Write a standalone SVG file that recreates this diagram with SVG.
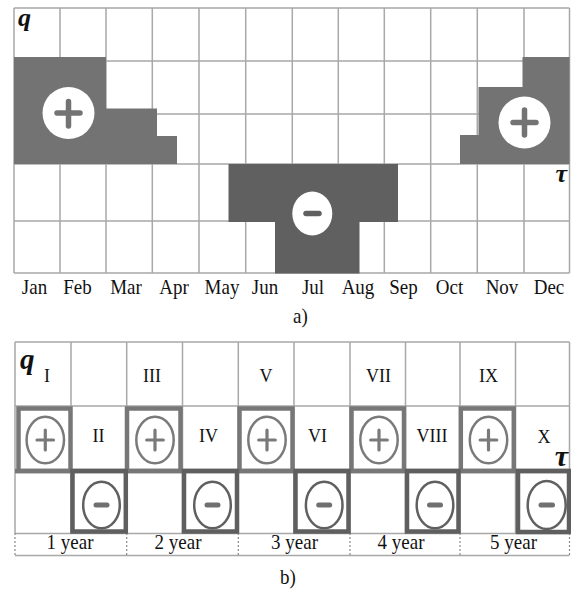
<svg xmlns="http://www.w3.org/2000/svg" width="571" height="590" viewBox="0 0 571 590">
  <style>
    .grid { stroke: #a8a8a8; stroke-width: 1.5; fill: none; }
    .lbl { font-family: "Liberation Serif", "Times New Roman", serif; font-size: 19px; fill: #111; text-anchor: middle; }
    .num { font-family: "Liberation Serif", "Times New Roman", serif; font-size: 18px; fill: #111; text-anchor: middle; }
    .axis { font-family: "Liberation Serif", "Times New Roman", serif; font-weight: bold; font-style: italic; fill: #111; }
    .pos { fill: #737373; }
    .neg { fill: #606060; }
    .sign { stroke-width: 5.5; stroke-linecap: round; }
    .pbox { fill: none; stroke: #777; stroke-width: 4.5; }
    .nbox { fill: none; stroke: #5f5f5f; stroke-width: 4.5; }
    .pcirc { fill: none; stroke: #7a7a7a; stroke-width: 2.5; }
    .ncirc { fill: none; stroke: #606060; stroke-width: 2.5; }
    .psign { stroke: #7a7a7a; stroke-width: 3.2; stroke-linecap: round; }
    .nsign { stroke: #707070; stroke-width: 5; stroke-linecap: round; }
    .sep { stroke: #8a8a8a; stroke-width: 1.2; stroke-dasharray: 2 2; }
  </style>

  <!-- (a) monthly chart -->
  <g id="monthly-chart">
    <g id="monthly-grid" class="grid">
      <path d="M14 8V273 M60 8V273 M106 8V273 M152.3 8V273 M199 8V273 M245.7 8V273 M292.3 8V273 M338.3 8V273 M384.3 8V273 M430.7 8V273 M477.3 8V273 M524 8V273 M569.5 8V273"/>
      <path d="M14 8H569.5 M14 61H569.5 M14 114H569.5 M14 164H569.5 M14 221H569.5 M14 273H569.5"/>
    </g>

    <g id="winter-start">
      <path class="pos" d="M14 57H106V108.5H157V136H177V164H14Z"/>
      <circle cx="68.5" cy="113" r="26" fill="#fff"/>
      <path class="sign" stroke="#737373" d="M57 113H80 M68.5 101.5V126"/>
    </g>

    <g id="winter-end">
      <path class="pos" d="M522.5 57H569.5V164H460V135H478.5V87H522.5Z"/>
      <circle cx="524.5" cy="122.5" r="26" fill="#fff"/>
      <path class="sign" stroke="#737373" d="M513 122.5H536 M524.5 110V135"/>
    </g>

    <g id="summer">
      <path class="neg" d="M228.5 164H398V222H359.5V273.5H275V222H228.5Z"/>
      <ellipse cx="312.3" cy="213.5" rx="20" ry="22" fill="#fff"/>
      <path class="sign" stroke="#606060" stroke-width="5" d="M306 213.5H319"/>
    </g>

    <text class="axis" x="18" y="25.5" font-size="26">q</text>
    <text class="axis" x="567" y="182" font-size="26" text-anchor="end">τ</text>

    <!-- month names, slightly stretched vertically -->
    <g id="months" transform="translate(0 294) scale(1 1.12)">
      <text class="lbl" x="34.5" y="0">Jan</text>
      <text class="lbl" x="77.5" y="0">Feb</text>
      <text class="lbl" x="126" y="0">Mar</text>
      <text class="lbl" x="174" y="0">Apr</text>
      <text class="lbl" x="222" y="0">May</text>
      <text class="lbl" x="265" y="0">Jun</text>
      <text class="lbl" x="313" y="0">Jul</text>
      <text class="lbl" x="358" y="0">Aug</text>
      <text class="lbl" x="403.5" y="0">Sep</text>
      <text class="lbl" x="449.5" y="0">Oct</text>
      <text class="lbl" x="502" y="0">Nov</text>
      <text class="lbl" x="549" y="0">Dec</text>
    </g>
    <text class="lbl" x="300.5" y="0" transform="translate(0 323) scale(1 1.12)">a)</text>
  </g>

  <!-- (b) yearly half-period chart -->
  <g id="yearly-chart">
    <g id="yearly-grid" class="grid">
      <path d="M15 342V533 M71 342V533 M126.7 342V533 M182.5 342V533 M238.3 342V533 M294 342V533 M350 342V533 M405.5 342V533 M460 342V533 M515.5 342V533 M569.5 342V533"/>
      <path d="M15 342H569.5 M15 406H569.5 M15 533.5H569.5 M15 555.5H569.5"/>
    </g>
    <path d="M15 471H570" stroke="#777" stroke-width="4.5"/>

    <g id="year-separators" class="sep">
      <path d="M15 533V556 M126.7 533V556 M238.3 533V556 M350 533V556 M460 533V556 M569.5 533V556"/>
    </g>

    <!-- positive half-periods -->
    <g id="p1"><rect class="pbox" x="18.5" y="408.5" width="52" height="62.5"/><ellipse class="pcirc" cx="45.3" cy="440" rx="18.7" ry="23.3"/><path class="psign" d="M37 440H53.5 M45.3 430V450"/></g>
    <g id="p3"><rect class="pbox" x="127" y="408.5" width="53.5" height="62.5"/><ellipse class="pcirc" cx="155" cy="440" rx="18.7" ry="23.3"/><path class="psign" d="M146.7 440H163.3 M155 430V450"/></g>
    <g id="p5"><rect class="pbox" x="239.5" y="408.5" width="53" height="62.5"/><ellipse class="pcirc" cx="267" cy="440" rx="18.7" ry="23.3"/><path class="psign" d="M258.7 440H275.3 M267 430V450"/></g>
    <g id="p7"><rect class="pbox" x="351.5" y="408.5" width="52.5" height="62.5"/><ellipse class="pcirc" cx="379" cy="440" rx="18.7" ry="23.3"/><path class="psign" d="M370.7 440H387.3 M379 430V450"/></g>
    <g id="p9"><rect class="pbox" x="460.8" y="408.5" width="53" height="62.5"/><ellipse class="pcirc" cx="488.5" cy="440" rx="18.7" ry="23.3"/><path class="psign" d="M480.2 440H496.8 M488.5 430V450"/></g>

    <!-- negative half-periods -->
    <g id="n2"><rect class="nbox" x="72.5" y="471" width="53.3" height="60.5"/><ellipse class="ncirc" cx="101.5" cy="505" rx="18.3" ry="23.3"/><path class="nsign" d="M96 505H107"/></g>
    <g id="n4"><rect class="nbox" x="184" y="471" width="53" height="60.5"/><ellipse class="ncirc" cx="212.5" cy="505" rx="18.3" ry="23.3"/><path class="nsign" d="M207 505H218"/></g>
    <g id="n6"><rect class="nbox" x="295.5" y="471" width="53" height="60.5"/><ellipse class="ncirc" cx="324.2" cy="505" rx="18.3" ry="23.3"/><path class="nsign" d="M318.7 505H329.7"/></g>
    <g id="n8"><rect class="nbox" x="407" y="471" width="51.5" height="60.5"/><ellipse class="ncirc" cx="435" cy="505" rx="18.3" ry="23.3"/><path class="nsign" d="M429.5 505H440.5"/></g>
    <g id="n10"><rect class="nbox" x="518" y="471" width="51" height="61"/><ellipse class="ncirc" cx="546.7" cy="505" rx="19" ry="24"/><path class="nsign" d="M541 505H552.5"/></g>

    <!-- period numerals, slightly stretched vertically -->
    <g id="periods-odd" transform="translate(0 382) scale(1 1.1)">
      <text class="num" x="47" y="0">I</text>
      <text class="num" x="152" y="0">III</text>
      <text class="num" x="266" y="0">V</text>
      <text class="num" x="378.5" y="0">VII</text>
      <text class="num" x="488.5" y="0">IX</text>
    </g>
    <g id="periods-even" transform="translate(0 442) scale(1 1.1)">
      <text class="num" x="98.5" y="0">II</text>
      <text class="num" x="208.5" y="0">IV</text>
      <text class="num" x="317.5" y="0">VI</text>
      <text class="num" x="432" y="0">VIII</text>
      <text class="num" x="544" y="1">X</text>
    </g>

    <text class="axis" x="20" y="369" font-size="29">q</text>
    <text class="axis" x="568" y="466" font-size="30" text-anchor="end">τ</text>

    <g id="years" transform="translate(0 549) scale(1 1.1)">
      <text class="lbl" x="70" y="0">1 year</text>
      <text class="lbl" x="178" y="0">2 year</text>
      <text class="lbl" x="294.5" y="0">3 year</text>
      <text class="lbl" x="401" y="0">4 year</text>
      <text class="lbl" x="513.5" y="0">5 year</text>
    </g>
    <text class="lbl" x="288" y="0" transform="translate(0 584) scale(1 1.12)">b)</text>
  </g>
</svg>
